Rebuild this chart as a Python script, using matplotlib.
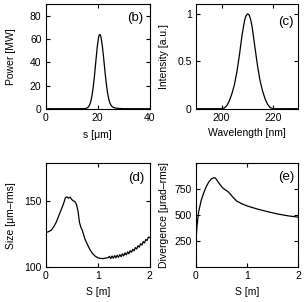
import matplotlib
matplotlib.use("Agg")
import matplotlib.pyplot as plt

plt.rcParams['font.family'] = ['Liberation Sans', 'DejaVu Sans']

# (b) power profile
s_um = [0, 14.3, 15.3, 15.8, 16.3, 16.8, 17.3, 17.8, 18.3, 18.8, 19.3, 19.8, 20.3, 20.55, 20.8, 21.05,
        21.3, 21.8, 22.3, 22.8, 23.3, 23.8, 24.3, 24.8, 25.3, 25.8, 26.3, 26.8, 27.3, 28.3, 29.3, 30.3, 40]
power_mw = [0, 0, 0.17, 0.5, 1.2, 2.8, 5.9, 11.1, 18.9, 29.3, 41.2, 52.7, 60.9, 63.3, 64.0, 63.3,
            61.3, 53.8, 43.4, 32.0, 21.7, 13.5, 7.7, 4.3, 2.4, 1.4, 0.9, 0.6, 0.4, 0.2, 0.08, 0, 0]

# (c) spectrum
wavelength_nm = [190, 200, 201, 202, 203, 204, 205, 206, 207, 208, 209, 209.5, 210.2, 210.7, 211,
                 211.5, 212, 213, 214, 215, 216, 217, 218, 219, 220, 221, 230]
intensity = [0, 0, 0.006, 0.03, 0.08, 0.155, 0.25, 0.39, 0.57, 0.775, 0.93, 0.976, 1.0, 0.99, 0.972,
             0.925, 0.852, 0.655, 0.462, 0.3, 0.19, 0.105, 0.045, 0.012, 0.001, 0, 0]

# (d) beam size
S_size = [0, 0.05, 0.1, 0.15, 0.2, 0.25, 0.3, 0.34, 0.38, 0.41, 0.44, 0.47, 0.5, 0.53, 0.56,
          0.59, 0.62, 0.65, 0.68, 0.7, 0.72, 0.75, 0.8, 0.85, 0.9, 0.95, 1.0, 1.05, 1.1, 1.15,
          1.2, 1.225, 1.25, 1.275, 1.3, 1.325, 1.35, 1.375, 1.4, 1.425, 1.45, 1.475, 1.5,
          1.525, 1.55, 1.575, 1.6, 1.625, 1.65, 1.675, 1.7, 1.725, 1.75, 1.775, 1.8, 1.825,
          1.85, 1.875, 1.9, 1.925, 1.95, 1.975, 2.0]
size_um = [126.4, 127, 128, 130.5, 134, 139, 144, 148, 153, 153.5, 152.5, 153.3, 151.5, 150.5, 150,
           148, 143, 134, 130, 128.5, 126, 122, 117.5, 113.5, 110.5, 108.5, 107.3, 106.8, 106.6, 107.0,
           107.3, 108.3, 106.65, 108.6, 106.9, 108.85, 107.2, 109.2, 107.6, 109.65, 108.1, 110.2, 108.7,
           110.9, 109.5, 111.7, 110.3, 112.6, 111.4, 113.7, 112.5, 115.0, 113.9, 116.4, 115.3, 117.9,
           116.9, 119.5, 118.5, 121.2, 120.3, 123.0, 122.5]

# (e) divergence
S_div = [0, 0.02, 0.05, 0.1, 0.15, 0.2, 0.25, 0.3, 0.35, 0.38, 0.42, 0.47, 0.52, 0.57, 0.62,
         0.67, 0.72, 0.8, 0.9, 1.0, 1.2, 1.4, 1.6, 1.8, 2.0]
div_urad = [260, 400, 530, 640, 715, 775, 820, 850, 862, 858, 830, 795, 765, 745, 730,
            705, 675, 635, 610, 590, 560, 535, 512, 495, 482]

W, H = 307, 302
fig = plt.figure(figsize=(W / 100, H / 100), dpi=100)

def box(l, t, r, b):
    return [l / W, 1 - b / H, (r - l) / W, (b - t) / H]

FS = 7.5
ax_b = fig.add_axes(box(45.7, 4.3, 149.7, 108.7))
ax_c = fig.add_axes(box(196, 4.3, 298.3, 108.7))
ax_d = fig.add_axes(box(45.7, 163.3, 149.7, 267.3))
ax_e = fig.add_axes(box(196, 163.3, 298.3, 267.3))

for ax in (ax_b, ax_c, ax_d, ax_e):
    ax.tick_params(direction='in', top=True, right=True, length=3, width=0.8,
                   labelsize=FS, pad=3)
    for sp in ax.spines.values():
        sp.set_linewidth(0.8)

LEFT_X = (15.5 - 45.7) / 104.0
RIGHT_X = (169.5 - 196) / 102.3

lw = 0.9
ax_b.plot(s_um, power_mw, color='black', lw=lw)
ax_b.set_xlim(0, 40)
ax_b.set_ylim(0, 90)
ax_b.set_xticks([0, 20, 40])
ax_b.set_yticks([0, 20, 40, 60, 80])
ax_b.set_xlabel('s [μm]', fontsize=FS)
ax_b.set_ylabel('Power [MW]', fontsize=FS)
ax_b.yaxis.set_label_coords(LEFT_X, 0.5)
ax_b.xaxis.set_label_coords(0.5, -(130 - 108.7) / 104.4)
ax_b.xaxis.label.set_va('top')
ax_b.text(0.86, 0.87, '(b)', transform=ax_b.transAxes, fontsize=9.5, ha='center', va='center')

ax_c.plot(wavelength_nm, intensity, color='black', lw=lw)
ax_c.set_xlim(190, 230)
ax_c.set_ylim(0, 1.1)
ax_c.set_xticks([200, 220])
ax_c.set_yticks([0, 0.5, 1])
ax_c.set_yticklabels(['0', '0.5', '1'])
ax_c.set_xlabel('Wavelength [nm]', fontsize=FS)
ax_c.set_ylabel('Intensity [a.u.]', fontsize=FS)
ax_c.yaxis.set_label_coords(RIGHT_X, 0.5)
ax_c.xaxis.set_label_coords(0.5, -(128 - 108.7) / 104.4)
ax_c.xaxis.label.set_va('top')
ax_c.text(0.88, 0.83, '(c)', transform=ax_c.transAxes, fontsize=9.5, ha='center', va='center')

ax_d.plot(S_size, size_um, color='black', lw=lw)
ax_d.set_xlim(0, 2)
ax_d.set_ylim(100, 179)
ax_d.set_xticks([0, 1, 2])
ax_d.set_yticks([100, 150])
ax_d.set_xlabel('S [m]', fontsize=FS)
ax_d.set_ylabel('Size [μm–rms]', fontsize=FS)
ax_d.yaxis.set_label_coords(LEFT_X, 0.5)
ax_d.xaxis.set_label_coords(0.5, -(287 - 267.3) / 104.0)
ax_d.xaxis.label.set_va('top')
ax_d.text(0.87, 0.86, '(d)', transform=ax_d.transAxes, fontsize=9.5, ha='center', va='center')

ax_e.plot(S_div, div_urad, color='black', lw=lw)
ax_e.set_xlim(0, 2)
ax_e.set_ylim(0, 1000)
ax_e.set_xticks([0, 1, 2])
ax_e.set_yticks([250, 500, 750])
ax_e.set_xlabel('S [m]', fontsize=FS)
ax_e.set_ylabel('Divergence [μrad–rms]', fontsize=FS)
ax_e.yaxis.set_label_coords(RIGHT_X, 0.5)
ax_e.xaxis.set_label_coords(0.5, -(287 - 267.3) / 104.0)
ax_e.xaxis.label.set_va('top')
ax_e.text(0.88, 0.87, '(e)', transform=ax_e.transAxes, fontsize=9.5, ha='center', va='center')

fig.savefig('out.png', dpi=100)
